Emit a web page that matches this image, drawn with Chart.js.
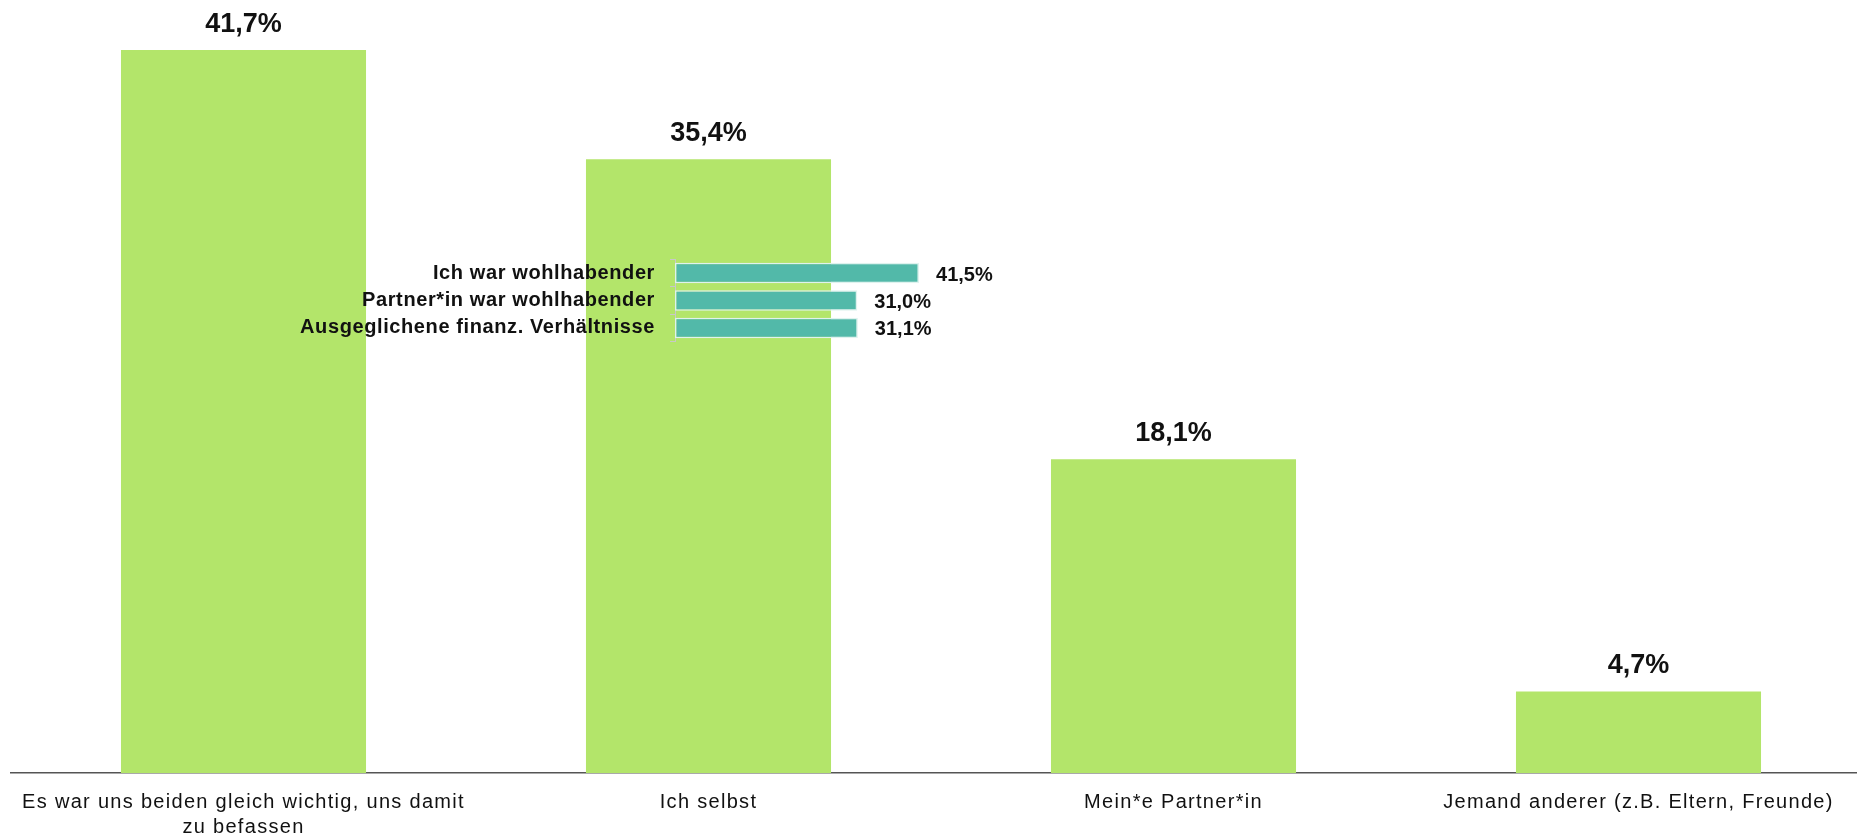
<!DOCTYPE html>
<html lang="de">
<head>
<meta charset="utf-8">
<title>Wer hat sich um die Finanzen gekümmert?</title>
<script src="https://cdn.jsdelivr.net/npm/chart.js@4/dist/chart.umd.min.js"></script>
<style>
    html, body { margin: 0; padding: 0; background: #fff; overflow: hidden; }
    #wrap { position: relative; width: 1857px; height: 835px; overflow: hidden; }
    #main-chart { position: absolute; left: 0; top: 0; }
    #wealth-chart { position: absolute; left: 200px; top: 245px; }
</style>
</head>
<body>
<div id="wrap">
    <canvas id="main-chart" width="1880" height="835"></canvas>
    <canvas id="wealth-chart" width="900" height="110"></canvas>
</div>
<script>
// Main question: who took care of the finances
const categories = [
    ['Es war uns beiden gleich wichtig, uns damit', 'zu befassen'],
    'Ich selbst',
    'Mein*e Partner*in',
    'Jemand anderer (z.B. Eltern, Freunde)'
];
const shares = [41.7, 35.4, 18.1, 4.7];

// Breakdown for "Ich selbst" by financial situation
const wealthLabels = ['Ich war wohlhabender', 'Partner*in war wohlhabender', 'Ausgeglichene finanz. Verhältnisse'];
const wealthShares = [41.5, 31.0, 31.1];

const FONT = "'Liberation Sans', Arial, sans-serif";
const GREEN = '#b3e56a';
const TEAL = '#52b9a9';

function formatPercent(v) {
    return v.toFixed(1).replace('.', ',') + '%';
}

/**
 * VALUE LABELS PLUGIN
 */
function valueLabels(opts) {
    return {
        id: 'valueLabels',
        afterDatasetsDraw(chart) {
            const ctx = chart.ctx;
            const meta = chart.getDatasetMeta(0);
            const data = chart.data.datasets[0].data;
            ctx.save();
            ctx.letterSpacing = '0px';
            ctx.fillStyle = '#111';
            ctx.font = 'bold ' + opts.size + 'px ' + FONT;
            meta.data.forEach((bar, i) => {
                const text = formatPercent(data[i]);
                if (opts.horizontal) {
                    ctx.textAlign = 'left';
                    ctx.textBaseline = 'middle';
                    ctx.fillText(text, bar.x + opts.gap, bar.y + 2);
                } else {
                    ctx.textAlign = 'center';
                    ctx.textBaseline = 'alphabetic';
                    ctx.fillText(text, bar.x, bar.y - opts.gap);
                }
            });
            ctx.restore();
        }
    };
}

function spacing(px) {
    return {
        id: 'letterSpacing',
        beforeDraw(chart) {
            chart.ctx.letterSpacing = px + 'px';
        }
    };
}

// Main bar chart
new Chart(document.getElementById('main-chart').getContext('2d'), {
    type: 'bar',
    data: {
        labels: categories,
        datasets: [{
            data: shares,
            backgroundColor: GREEN,
            borderWidth: 0,
            categoryPercentage: 1,
            barPercentage: 0.527
        }]
    },
    options: {
        responsive: false,
        animation: false,
        devicePixelRatio: 1,
        layout: { padding: { left: 11, right: 9, top: 10, bottom: 0 } },
        plugins: { legend: { display: false }, tooltip: { enabled: false } },
        scales: {
            y: { display: false, min: 0, max: 44 },
            x: {
                grid: { display: false },
                border: { display: true, color: '#555', width: 1.5 },
                ticks: {
                    color: '#111',
                    font: { family: FONT, size: 20, lineHeight: 1.25 },
                    padding: 9,
                    autoSkip: false,
                    maxRotation: 0,
                    minRotation: 0
                },
                afterFit(scale) { scale.height = 62; }
            }
        }
    },
    plugins: [spacing(1.3), valueLabels({ size: 27, gap: 18 })]
});

// Inset horizontal bars
new Chart(document.getElementById('wealth-chart').getContext('2d'), {
    type: 'bar',
    data: {
        labels: wealthLabels,
        datasets: [{
            data: wealthShares,
            backgroundColor: TEAL,
            borderColor: '#dff2ee',
            borderWidth: 1.5,
            borderSkipped: false,
            categoryPercentage: 1,
            barPercentage: 0.75
        }]
    },
    options: {
        indexAxis: 'y',
        responsive: false,
        animation: false,
        devicePixelRatio: 1,
        layout: { padding: { left: 0, right: 131, top: 14.3, bottom: 13.3 } },
        plugins: { legend: { display: false }, tooltip: { enabled: false } },
        scales: {
            x: { display: false, min: 0, max: 50 },
            y: {
                grid: { offset: true, drawOnChartArea: false, drawTicks: true, tickLength: 5, color: '#c8c8c8' },
                border: { display: true, color: '#c8c8c8', width: 1 },
                ticks: {
                    color: '#111',
                    font: { family: FONT, size: 20, weight: 'bold' },
                    padding: 15
                },
                afterFit(scale) {
                    scale.width = 475;
                    scale.paddingTop = 0;
                    scale.paddingBottom = 0;
                }
            }
        }
    },
    plugins: [spacing(0.6), valueLabels({ size: 20, gap: 17, horizontal: true })]
});
</script>
</body>
</html>
